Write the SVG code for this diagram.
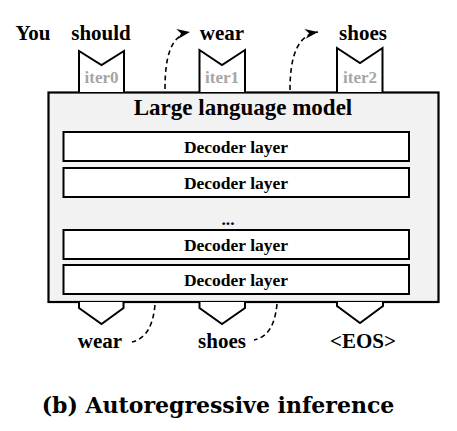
<svg xmlns="http://www.w3.org/2000/svg" width="457" height="431" viewBox="0 0 457 431">
<defs>
<style>
.w{font-family:"Liberation Serif","Times New Roman",serif;font-weight:bold;fill:#000;text-anchor:middle}
.tok{font-size:21px}
.it{font-family:"Liberation Serif","Times New Roman",serif;font-weight:bold;font-size:17px;fill:#a6a6a6;text-anchor:middle}
.shape{fill:#fff;stroke:#000;stroke-width:2;stroke-linejoin:miter}
.layer{fill:#fff;stroke:#000;stroke-width:2}
.dl{font-size:17.5px}
.dash{fill:none;stroke:#000;stroke-width:1.6;stroke-dasharray:5 3.5}
.cap{font-family:"DejaVu Serif",serif;font-weight:bold;font-size:22px;fill:#000;text-anchor:middle}
</style>
<marker id="ah" markerUnits="userSpaceOnUse" markerWidth="14" markerHeight="10" refX="13" refY="5" orient="auto" overflow="visible">
<path d="M0,0 L13,5 L0,10 L4,5 z" fill="#000"/>
</marker>
</defs>
<g id="model">
<rect x="48.5" y="92.5" width="390" height="209.5" fill="#f2f2f2" stroke="#000" stroke-width="2.2"/>
<text class="w" x="243" y="115" font-size="23">Large language model</text>
<text class="w dl" x="228" y="225">...</text>
</g>
<g id="layer1"><rect class="layer" x="63.5" y="132" width="345.5" height="29"/><text class="w dl" x="236" y="152.5">Decoder layer</text></g>
<g id="layer2"><rect class="layer" x="63.5" y="168" width="345.5" height="29"/><text class="w dl" x="236" y="188.5">Decoder layer</text></g>
<g id="layer3"><rect class="layer" x="63.5" y="230" width="345.5" height="29"/><text class="w dl" x="236" y="250.5">Decoder layer</text></g>
<g id="layer4"><rect class="layer" x="63.5" y="265" width="345.5" height="29"/><text class="w dl" x="236" y="285.5">Decoder layer</text></g>
<g id="in0"><path class="shape" d="M79,92 L79,51 L101.5,65 L124,51 L124,92"/><text class="it" x="101.5" y="83">iter0</text></g>
<g id="in1"><path class="shape" d="M199.5,92 L199.5,50 L222,65 L245,50 L245,92"/><text class="it" x="222" y="83">iter1</text></g>
<g id="in2"><path class="shape" d="M337,92 L337,48 L360,63 L382.5,48 L382.5,92"/><text class="it" x="360" y="83">iter2</text></g>
<g id="out0"><path class="shape" d="M79,302 L79,308 L101.5,324 L123.5,308 L123.5,302"/></g>
<g id="out1"><path class="shape" d="M199.5,302 L199.5,308 L222,324 L245,308 L245,302"/></g>
<g id="out2"><path class="shape" d="M337,302 L337,306 L360,323 L383,306 L383,302"/></g>
<g id="tokens">
<text class="w tok" x="33" y="40">You</text>
<text class="w tok" x="101" y="40">should</text>
<text class="w tok" x="222" y="40">wear</text>
<text class="w tok" x="363" y="40">shoes</text>
<text class="w tok" x="100" y="348">wear</text>
<text class="w tok" x="222" y="348">shoes</text>
<text class="w tok" x="363" y="348">&lt;EOS&gt;</text>
</g>
<g id="connectors">
<path class="dash" d="M165,89 C165,56 171,35 190,32" marker-end="url(#ah)"/>
<path class="dash" d="M290,90 C290,57 297,35 318,32" marker-end="url(#ah)"/>
<path class="dash" d="M155,305 C153,325 147,338 132,342"/>
<path class="dash" d="M277,304 C275,325 268,337 254,340"/>
</g>
<text class="cap" x="218" y="413">(b) Autoregressive inference</text>
</svg>
